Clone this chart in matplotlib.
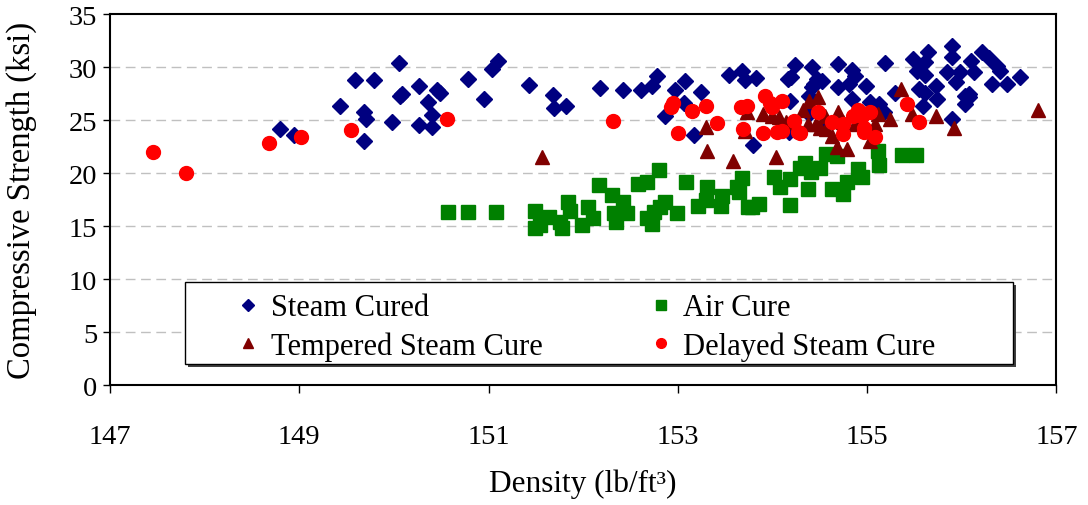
# Compressive strength vs. density for four curing regimes

import matplotlib.pyplot as plt
from matplotlib.patches import Rectangle

steam_x = [148.80, 148.95, 149.43, 149.59, 149.79, 149.68, 149.71, 149.68, 149.98, 150.05,
           150.09, 150.07, 150.27, 150.27, 150.40, 150.36, 150.40, 150.46, 150.49, 150.78,
           150.95, 151.04, 151.10, 151.43, 151.68, 151.69, 151.82, 152.18, 152.42, 152.61,
           152.73, 152.78, 152.97, 153.08, 153.25, 153.06, 152.86, 153.17, 153.54, 153.68,
           153.71, 153.83, 153.79, 154.16, 154.24, 154.20, 154.42, 154.44, 154.18, 154.39,
           154.47, 154.52, 154.42, 154.69, 154.84, 154.87, 154.69, 154.81, 154.99, 155.19,
           154.39, 154.84, 155.03, 155.13, 155.29, 155.18, 155.48, 155.64, 155.61, 155.53,
           155.61, 155.73, 155.74, 155.61, 155.55, 155.59, 155.84, 155.90, 155.90, 155.98,
           156.03, 156.08, 156.10, 155.90, 155.94, 156.21, 156.29, 156.37, 156.40, 156.13,
           156.32, 156.48, 156.61, 156.08, 156.03, 154.17, 154.55]
steam_y = [24.2, 23.6, 26.3, 28.8, 28.8, 25.8, 25.1, 23.0, 24.8, 30.4,
           27.5, 27.3, 28.2, 24.5, 24.4, 26.7, 25.5, 27.8, 27.6, 28.9,
           27.0, 29.8, 30.6, 28.3, 27.4, 26.1, 26.3, 28.0, 27.8, 27.8,
           28.2, 29.2, 27.8, 28.7, 27.7, 26.6, 25.4, 23.6, 29.3, 29.6,
           28.8, 29.0, 22.7, 28.9, 30.2, 29.1, 30.0, 28.4, 26.8, 25.6,
           28.9, 28.7, 28.1, 30.3, 29.7, 29.2, 28.1, 28.4, 28.2, 30.4,
           27.3, 27.0, 26.7, 26.5, 27.6, 25.8, 30.8, 31.4, 30.5, 29.6,
           29.3, 28.2, 27.0, 27.6, 27.9, 26.3, 29.5, 32.0, 31.0, 29.5,
           27.3, 27.5, 30.6, 25.1, 28.6, 31.4, 30.9, 30.1, 29.6, 29.5,
           28.4, 28.4, 29.1, 27.2, 26.5, 23.9, 24.5]

air_x = [150.57, 150.78, 151.08, 151.49, 151.49, 151.54, 151.64, 151.75, 151.78, 151.84,
         151.86, 151.99, 152.05, 152.10, 152.17, 152.30, 152.33, 152.35, 152.42, 152.46,
         152.58, 152.67, 152.80, 152.67, 152.73, 152.75, 152.86, 152.81, 152.99, 153.09,
         153.21, 153.31, 153.30, 153.46, 153.47, 153.63, 153.68, 153.74, 153.65, 153.78,
         153.86, 154.02, 154.08, 154.18, 154.18, 154.34, 154.29, 154.41, 154.50, 154.37,
         154.57, 154.68, 154.63, 154.74, 154.79, 154.90, 154.95, 155.11, 155.13, 155.37,
         155.52]
air_y = [16.3, 16.3, 16.3, 16.4, 14.8, 15.1, 15.9, 15.4, 14.8, 17.3,
         16.4, 15.1, 16.8, 15.8, 18.9, 17.9, 16.2, 15.4, 17.3, 16.2,
         19.0, 19.2, 20.3, 15.8, 15.2, 16.3, 17.3, 16.8, 16.2, 19.2,
         16.9, 18.7, 17.5, 16.9, 17.8, 18.7, 19.5, 16.8, 18.2, 16.8,
         17.1, 19.6, 18.7, 19.4, 17.0, 21.0, 20.5, 20.1, 20.5, 18.5,
         21.8, 21.6, 18.5, 18.0, 19.2, 20.4, 19.6, 22.1, 20.8, 21.7,
         21.7]

tempered_x = [151.57, 153.30, 153.31, 153.58, 153.71, 153.73, 153.90, 153.99, 154.04, 154.07,
              154.14, 154.32, 154.39, 154.37, 154.46, 154.48, 154.55, 154.50, 154.57, 154.69,
              154.63, 154.68, 154.79, 154.74, 154.87, 155.03, 155.08, 155.11, 155.24, 155.36,
              155.47, 155.73, 155.92, 156.81]
tempered_y = [21.5, 24.4, 22.1, 21.1, 24.0, 25.8, 25.6, 25.4, 21.5, 25.3,
              24.8, 26.0, 26.8, 24.6, 24.6, 27.2, 25.4, 24.3, 24.2, 25.8,
              23.5, 22.5, 22.3, 24.8, 24.6, 23.0, 24.6, 25.6, 25.1, 27.9,
              25.6, 25.4, 24.3, 26.0]

delayed_x = [147.46, 147.80, 148.68, 149.02, 149.55, 150.56, 152.31, 152.93, 152.95, 153.15,
             153.30, 153.41, 153.00, 153.67, 153.73, 153.69, 153.90, 153.92, 153.97, 154.00,
             154.10, 154.10, 154.05, 154.23, 154.27, 154.48, 154.29, 154.63, 154.74, 154.74,
             154.90, 154.85, 155.03, 154.95, 154.97, 154.97, 155.08, 155.42, 155.55]
delayed_y = [22.0, 20.0, 22.8, 23.4, 24.1, 25.1, 24.9, 26.2, 26.6, 25.9,
             26.3, 24.7, 23.8, 26.2, 26.3, 24.2, 23.8, 27.3, 26.6, 26.2,
             26.8, 24.0, 23.9, 24.9, 23.9, 25.8, 23.8, 24.8, 24.6, 23.7,
             26.0, 25.4, 25.8, 25.4, 24.3, 23.9, 23.4, 26.5, 24.8]

x_ticks = [147, 149, 151, 153, 155, 157]
y_ticks = [0, 5, 10, 15, 20, 25, 30, 35]

plt.rcParams['font.family'] = ['Liberation Serif', 'DejaVu Serif']

fig = plt.figure(figsize=(10.88, 5.06), dpi=100)
ax = fig.add_axes([0.101, 0.237, 0.870, 0.733])

h1, = ax.plot(steam_x, steam_y, 'D', color='#000080', markersize=8.5, ls='none', label='Steam Cured')
h2, = ax.plot(air_x, air_y, 's', color='#008000', markersize=9.5, ls='none', label='Air Cure')
h3, = ax.plot(tempered_x, tempered_y, '^', color='#800000', markersize=10.5, ls='none',
              label='Tempered Steam Cure')
h4, = ax.plot(delayed_x, delayed_y, 'o', color='#FF0000', markersize=10, ls='none',
              label='Delayed Steam Cure')

ax.set_xlim(147, 157)
ax.set_ylim(0, 35)
ax.set_xticks(x_ticks)
ax.set_yticks(y_ticks)
ax.tick_params(axis='x', direction='out', length=6, width=1, labelsize=20.5, pad=22)
ax.tick_params(axis='y', direction='out', length=5, width=1, labelsize=20.5, pad=4)

for y in y_ticks[1:-1]:
    ax.axhline(y, color='#c0c0c0', lw=1, ls=(0, (7, 4)), zorder=0)

for s in ax.spines.values():
    s.set_linewidth(1.5)
    s.set_color('black')

ax.set_xlabel('Density (lb/ft³)', fontsize=22.5)
ax.xaxis.set_label_coords(0.5, -0.226)
ax.set_ylabel('Compressive Strength (ksi)', fontsize=23.5)
ax.yaxis.set_label_coords(-0.077, 0.5)

# legend box with a drop shadow
shadow = Rectangle((0.082, 0.049), 0.875, 0.221, transform=ax.transAxes,
                   facecolor='#404040', edgecolor='none', zorder=5)
box = Rectangle((0.079, 0.057), 0.875, 0.221, transform=ax.transAxes,
                facecolor='white', edgecolor='black', lw=1, zorder=6)
ax.add_patch(shadow)
ax.add_patch(box)

leg_opts = dict(loc='center left', fontsize=22, markerscale=0.7, handlelength=1.0,
                handletextpad=0.23, borderpad=0, borderaxespad=0, frameon=False,
                labelspacing=0.3)
leg1 = ax.legend([h1, h3], ['Steam Cured', 'Tempered Steam Cure'],
                 bbox_to_anchor=(0.130, 0.156), **leg_opts)
leg1.set_zorder(7)
ax.add_artist(leg1)
leg2 = ax.legend([h2, h4], ['Air Cure', 'Delayed Steam Cure'],
                 bbox_to_anchor=(0.566, 0.156), **leg_opts)
leg2.set_zorder(7)

fig.savefig('out.png', dpi=100)
